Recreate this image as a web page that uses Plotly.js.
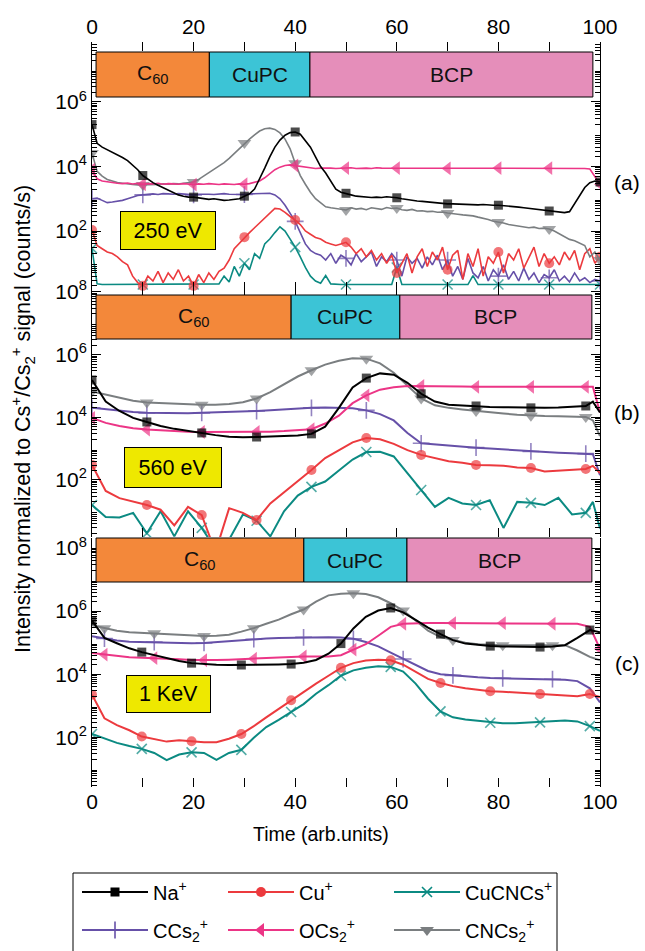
<!DOCTYPE html>
<html><head><meta charset="utf-8">
<script src="https://cdn.plot.ly/plotly-3.0.1.min.js"></script>
<style>html,body{margin:0;padding:0;background:#fff}#chart{width:645px;height:951px}</style>
</head><body><div id="chart"></div>
<script>
// ================= DATA (log10 of intensity in counts/s) =================
const timeA = [0,1,2,3,4,5,6,7,8,9,10,11,12,13,14,15,16,17,18,19,20,21,22,23,24,25,26,27,28,29,30,31,32,33,34,35,36,37,38,39,40,41,42,43,44,45,46,47,48,49,50,51,52,53,54,55,56,57,58,59,60,61,62,63,64,65,66,67,68,69,70,71,72,73,74,75,76,77,78,79,80,81,82,83,84,85,86,87,88,89,90,91,92,93,94,95,96,97,98,99,100];
const timeB = [0,2.7,5.4,8.1,10.8,13.5,16.2,18.9,21.6,24.3,27,29.7,32.4,35.1,37.8,40.5,43.2,45.9,48.6,51.3,54,56.7,59.4,62.1,64.8,67.5,70.2,72.9,75.6,78.3,81,83.7,86.4,89.1,91.8,94.5,97.2,98.6,100];
const timeC = [0,2.45,4.9,7.35,9.8,12.25,14.7,17.15,19.6,22.05,24.5,26.95,29.4,31.85,34.3,36.75,39.2,41.65,44.1,46.55,49,51.45,53.9,56.35,58.8,61.25,63.7,66.15,68.6,71.05,73.5,75.95,78.4,80.85,83.3,85.75,88.2,90.65,93.1,95.55,98,100];

// ---- panel (a) 250 eV ----
const naA = [5.3,4.72,4.6,4.52,4.45,4.38,4.28,4.18,4.05,3.9,
 3.72,3.6,3.5,3.42,3.35,3.28,3.2,3.12,3.08,3.05,
 3.05,3.03,3.02,2.98,3.0,2.97,2.95,2.96,2.97,3.0,
 3.08,3.15,3.3,3.6,3.95,4.3,4.6,4.82,4.97,5.05,
 5.07,5.0,4.8,4.6,4.3,4.0,3.8,3.55,3.3,3.2,
 3.17,3.12,3.08,3.06,3.05,3.04,3.05,3.04,3.06,3.05,
 3.03,3.0,2.97,2.95,2.93,2.92,2.9,2.88,2.87,2.86,
 2.84,2.84,2.83,2.83,2.82,2.82,2.81,2.82,2.8,2.8,
 2.8,2.79,2.77,2.76,2.74,2.72,2.7,2.68,2.65,2.63,
 2.62,2.6,2.58,2.57,2.6,2.85,3.1,3.35,3.5,3.55,3.52];
const cuA = [2.03,1.55,1.45,1.35,1.3,1.2,1.05,0.95,0.6,0.4,
 0.3,0.6,0.45,0.75,0.4,0.7,0.5,0.8,0.45,0.6,
 0.3,0.65,0.4,0.7,0.5,0.75,0.85,1.1,1.45,1.62,
 1.81,1.95,2.1,2.25,2.4,2.55,2.7,2.68,2.58,2.45,
 2.34,2.2,2.0,1.9,1.8,1.75,1.65,1.6,1.55,1.6,
 1.65,1.5,1.3,1.45,1.2,1.4,1.1,1.3,1.0,1.25,
 0.7,1.0,1.3,0.7,1.2,1.45,0.9,1.35,1.1,1.5,
 0.8,1.25,1.4,0.5,1.3,0.9,1.45,0.6,1.2,1.0,
 1.35,0.7,1.3,1.1,1.45,0.85,1.2,1.5,0.9,1.3,
 1.0,1.2,0.95,1.35,1.1,1.4,0.8,1.3,1.45,1.0,1.2];
const cucncsA = [1.46,0.36,0.34,0.34,0.34,0.34,0.34,0.34,0.34,0.34,
 0.34,0.34,0.34,0.34,0.34,0.34,0.34,0.34,0.34,0.34,
 0.34,0.34,0.34,0.34,0.34,0.36,0.6,0.42,0.9,0.6,
 1.0,0.8,1.3,1.15,1.6,1.75,1.95,2.13,2.0,1.75,
 1.5,1.2,0.87,0.6,0.45,0.38,0.62,0.36,0.34,0.34,
 0.34,0.34,0.34,0.34,0.34,0.34,0.34,0.34,0.34,0.34,
 0.87,0.34,0.34,0.34,0.34,0.34,0.34,0.34,0.34,0.34,
 0.34,0.34,0.34,0.34,0.34,0.62,0.34,0.34,0.34,0.34,
 0.34,0.34,0.34,0.34,0.34,0.34,0.34,0.34,0.34,0.34,
 0.34,0.34,0.34,0.34,0.34,0.34,0.34,0.34,0.34,0.34,0.34];
const ccs2A = [3.0,3.02,2.95,2.88,2.9,2.92,2.95,3.0,3.05,3.1,
 3.12,3.14,3.15,3.13,3.16,3.15,3.14,3.16,3.15,3.13,
 3.12,3.14,3.15,3.14,3.13,3.15,3.16,3.14,3.13,3.12,
 3.13,3.15,3.16,3.15,3.16,3.17,3.12,3.0,2.8,2.55,
 2.3,1.95,1.6,1.4,1.3,1.25,1.1,1.3,1.0,1.25,
 1.15,0.95,1.3,1.05,1.2,1.35,0.9,1.2,1.05,1.3,
 1.1,0.6,1.2,1.0,1.15,0.85,1.2,0.95,1.25,0.8,
 1.1,0.6,0.9,0.5,1.15,0.7,0.55,0.9,0.45,0.8,
 0.6,0.95,0.5,0.75,0.45,0.85,0.5,0.7,0.4,0.65,
 0.55,0.8,0.45,0.6,0.42,0.7,0.45,0.55,0.4,0.5,0.45];
const ocs2A = [3.9,3.62,3.55,3.52,3.5,3.48,3.47,3.49,3.46,3.48,
 3.45,3.47,3.46,3.48,3.45,3.47,3.46,3.45,3.47,3.46,
 3.44,3.46,3.45,3.47,3.45,3.44,3.46,3.45,3.44,3.46,
 3.45,3.47,3.5,3.55,3.65,3.78,3.9,3.98,4.03,4.05,
 4.03,4.0,3.97,3.95,3.94,3.95,3.96,3.95,3.94,3.95,
 3.95,3.96,3.94,3.95,3.95,3.94,3.96,3.95,3.95,3.94,
 3.95,3.96,3.95,3.94,3.95,3.95,3.96,3.94,3.95,3.95,
 3.94,3.96,3.95,3.95,3.94,3.95,3.96,3.95,3.94,3.95,
 3.95,3.96,3.94,3.95,3.95,3.94,3.96,3.95,3.95,3.94,
 3.95,3.96,3.95,3.94,3.95,3.95,3.96,3.94,3.92,3.7,3.45];
const cncs2A = [4.42,3.85,3.7,3.6,3.55,3.5,3.48,3.45,3.44,3.43,
 3.43,3.44,3.45,3.44,3.46,3.45,3.47,3.46,3.48,3.5,
 3.52,3.6,3.7,3.82,3.92,4.02,4.12,4.25,4.4,4.55,
 4.73,4.85,4.98,5.1,5.17,5.19,5.15,5.04,4.85,4.55,
 4.1,3.72,3.45,3.2,3.0,2.87,2.75,2.72,2.7,2.68,
 2.65,2.72,2.68,2.7,2.66,2.72,2.69,2.67,2.73,2.7,
 2.71,2.66,2.64,2.67,2.62,2.63,2.6,2.61,2.58,2.59,
 2.56,2.55,2.52,2.5,2.49,2.47,2.43,2.4,2.36,2.3,
 2.28,2.25,2.2,2.18,2.14,2.13,2.1,2.12,2.08,2.09,
 2.06,2.0,1.92,1.82,1.74,1.7,1.62,1.55,1.2,1.35,1.1];

// ---- panel (b) 560 eV ----
const naB = [5.19,4.5,4.2,3.98,3.85,3.72,3.63,3.56,3.5,3.43,
 3.38,3.36,3.37,3.38,3.4,3.42,3.47,3.7,4.3,4.95,
 5.25,5.4,5.36,5.1,4.75,4.5,4.4,4.37,4.36,4.33,
 4.32,4.31,4.3,4.3,4.31,4.33,4.36,4.5,4.15];
const cuB = [2.48,1.65,1.42,1.32,1.2,1.05,0.55,1.14,0.88,-0.3,
 1.1,0.95,0.72,1.25,1.6,1.95,2.32,2.7,2.95,3.2,
 3.34,3.3,3.15,2.95,2.8,2.7,2.6,2.55,2.48,2.47,
 2.45,2.4,2.38,2.27,2.3,2.32,2.35,2.45,2.22];
const cucncsB = [1.2,0.82,0.8,0.95,0.3,1.0,0.2,1.0,0.47,-0.2,
 0.1,0.9,0.7,0.2,1.0,1.5,1.78,1.95,2.3,2.65,
 2.89,2.9,2.75,2.22,1.68,1.14,1.43,1.25,1.2,1.35,
 0.47,1.3,1.27,1.2,1.43,0.9,0.95,1.3,0.45];
const ccs2B = [4.3,4.25,4.2,4.17,4.14,4.13,4.13,4.13,4.14,4.15,
 4.16,4.18,4.2,4.22,4.25,4.28,4.3,4.31,4.31,4.29,
 4.22,4.1,3.9,3.5,3.17,3.13,3.1,3.06,3.03,3.0,
 2.97,2.94,2.91,2.89,2.87,2.85,2.84,2.82,2.15];
const ocs2B = [3.98,3.82,3.72,3.65,3.61,3.58,3.56,3.54,3.53,3.53,
 3.53,3.53,3.53,3.54,3.56,3.58,3.62,3.8,4.05,4.45,
 4.7,4.88,4.96,5.0,5.0,4.99,4.98,4.98,4.97,4.97,
 4.97,4.97,4.97,4.97,4.97,4.97,4.97,4.97,4.15];
const cncs2B = [4.82,4.72,4.62,4.53,4.47,4.45,4.43,4.41,4.4,4.4,
 4.42,4.48,4.6,4.8,5.05,5.3,5.5,5.68,5.8,5.88,
 5.87,5.72,5.42,5.0,4.6,4.38,4.3,4.25,4.2,4.16,
 4.12,4.08,4.05,4.04,4.03,4.02,4.01,3.9,3.4];

// ---- panel (c) 1 KeV ----
const naC = [5.7,5.15,4.98,4.82,4.7,4.6,4.51,4.42,4.35,4.32,
 4.3,4.29,4.29,4.29,4.3,4.31,4.32,4.36,4.45,4.65,
 4.97,5.45,5.82,6.02,6.1,5.96,5.72,5.48,5.27,5.08,
 4.97,4.92,4.89,4.88,4.87,4.86,4.86,4.88,4.92,5.15,
 5.4,5.33];
const cuC = [3.35,2.6,2.38,2.22,2.02,1.93,1.86,1.9,1.87,1.84,
 1.84,1.95,2.1,2.35,2.63,2.9,3.17,3.42,3.7,3.95,
 4.2,4.35,4.43,4.46,4.44,4.3,4.08,3.85,3.72,3.62,
 3.55,3.5,3.46,3.44,3.42,3.39,3.37,3.35,3.32,3.3,
 3.37,3.27];
const cucncsC = [2.1,1.95,1.82,1.72,1.63,1.5,1.27,1.45,1.52,1.5,
 1.28,1.5,1.6,1.98,2.32,2.55,2.8,3.05,3.38,3.65,
 3.95,4.12,4.2,4.25,4.23,4.08,3.7,3.22,2.82,2.63,
 2.56,2.52,2.46,2.44,2.44,2.46,2.47,2.5,2.53,2.5,
 2.35,2.2];
const ccs2C = [5.2,5.13,5.07,5.03,5.02,5.02,5.0,4.98,4.98,4.99,
 5.02,5.06,5.09,5.11,5.13,5.15,5.16,5.17,5.17,5.17,
 5.16,5.12,5.02,4.88,4.68,4.48,4.28,4.1,4.0,3.96,
 3.92,3.9,3.88,3.87,3.86,3.85,3.84,3.84,3.82,3.78,
 3.55,3.1];
const ocs2C = [4.67,4.62,4.57,4.54,4.52,4.51,4.49,4.47,4.45,4.44,
 4.45,4.46,4.48,4.49,4.51,4.52,4.54,4.56,4.56,4.56,
 4.6,4.78,4.95,5.22,5.5,5.6,5.62,5.62,5.62,5.62,
 5.62,5.62,5.62,5.62,5.62,5.61,5.61,5.6,5.6,5.6,
 5.5,4.8];
const cncs2C = [5.55,5.46,5.38,5.33,5.31,5.3,5.27,5.24,5.22,5.21,
 5.22,5.25,5.35,5.46,5.6,5.73,5.9,6.05,6.3,6.5,
 6.55,6.57,6.54,6.44,6.25,6.02,5.7,5.38,5.18,5.08,
 5.0,4.95,4.93,4.92,4.92,4.92,4.92,4.92,4.92,4.75,
 4.55,4.44];

// ---- labels ----
const seriesNames = ['Na<sup>+</sup>','Cu<sup>+</sup>','CuCNCs<sup>+</sup>','CCs<sub>2</sub><sup>+</sup>','OCs<sub>2</sub><sup>+</sup>','CNCs<sub>2</sub><sup>+</sup>'];
const layerNames = ['C<sub>60</sub>','CuPC','BCP'];
const layerEdgesA = [0.8, 23.1, 42.9, 98.6];
const layerEdgesB = [0.8, 39.2, 60.6, 98.4];
const layerEdgesC = [0.8, 41.7, 62.0, 98.4];
const energyLabels = ['250 eV','560 eV','1 KeV'];
const panelLabels = ['(a)','(b)','(c)'];
const xTickVals = [0,20,40,60,80,100];
const xMinorVals = [10,30,50,70,90];
const yTickVals = [100,1e4,1e6,1e8];
const yTickText = ['10<sup>2</sup>','10<sup>4</sup>','10<sup>6</sup>','10<sup>8</sup>'];
const yOddDecades = [10,1e3,1e5,1e7];
const xTitle = 'Time (arb.units)';
const yTitle = 'Intensity normalized to Cs<sup>+</sup>/Cs<sub>2</sub><sup>+</sup> signal (counts/s)';

// ================= STYLE / LAYOUT =================
const FONT = 'Liberation Sans, Arial, Helvetica, sans-serif';
const H = 951, L = 92, PW = 508;
const px = p => (p - L) / PW;
const py = p => 1 - p / H;
const toCounts = a => a.map(v => Math.pow(10, v));

const styles = [
  {color:'#000000', symbol:'square', size:9},
  {color:'#EC3A3E', symbol:'circle', size:10},
  {color:'#0B8A82', symbol:'x-thin', size:10, thin:true},
  {color:'#6650A8', symbol:'cross-thin', size:12, thin:true},
  {color:'#EC3586', symbol:'triangle-left', size:12},
  {color:'#7A7E80', symbol:'triangle-down', size:12}
];
const drawOrder = [2,3,1,5,4,0];

const step = (a,b,s) => { const r=[]; for(let i=a;i<=b;i+=s) r.push(i); return r; };
const panels = [
  {time:timeA, data:[naA,cuA,cucncsA,ccs2A,ocs2A,cncs2A], marks:[step(0,100,10),step(0,100,10),step(0,100,10),step(0,100,10),step(0,100,10),step(0,100,10)],
   top:42, bottom:291, range:[0.14,7.86], barTop:52, barBot:97, edges:layerEdgesA,
   box:{cx:168, cy:230.5, w:94, h:37}, lab:{x:627, y:182}, lw:1.6},
  {time:timeB, data:[naB,cuB,cucncsB,ccs2B,ocs2B,cncs2B], marks:[step(0,36,4),step(0,36,4),step(0,36,4),step(0,36,4),step(0,36,4),step(0,36,4)],
   top:290, bottom:537, range:[0.18,8.06], barTop:295, barBot:339, edges:layerEdgesB,
   box:{cx:173, cy:467.5, w:96, h:39}, lab:{x:627, y:413}, lw:2},
  {time:timeC, data:[naC,cuC,cucncsC,ccs2C,ocs2C,cncs2C], marks:[step(0,40,4),step(0,40,4),step(0,40,4),step(1,37,4),step(1,41,4),step(1,37,4)],
   top:538, bottom:787, range:[0.42,8.32], barTop:538, barBot:582, edges:layerEdgesC,
   box:{cx:168.5, cy:694, w:83, h:36}, lab:{x:627, y:663}, lw:2}
];
const layerColors = ['#F3883A','#3CC4D6','#E58EBA'];

const minorVals = [];
for (let n = 0; n <= 8; n++) for (let k = 2; k <= 9; k++) minorVals.push(k * Math.pow(10, n));

const traces = [];
const layout = {
  width:645, height:951, margin:{l:L, r:45, t:0, b:0},
  paper_bgcolor:'#fff', plot_bgcolor:'rgba(0,0,0,0)',
  font:{family:FONT, size:21, color:'#000'},
  showlegend:true, hovermode:false,
  shapes:[], annotations:[]
};

panels.forEach((p, pi) => {
  const xa = pi === 0 ? 'x' : 'x' + (pi + 1);
  const ya = pi === 0 ? 'y' : 'y' + (pi + 1);
  const xKey = pi === 0 ? 'xaxis' : 'xaxis' + (pi + 1);
  const yKey = pi === 0 ? 'yaxis' : 'yaxis' + (pi + 1);
  const yOddKey = 'yaxis' + (pi + 4);
  drawOrder.forEach(si => {
    const st = styles[si];
    const sizes = p.time.map((t, i) => p.marks[si].includes(i) ? st.size : 0);
    traces.push({
      x: p.time, y: toCounts(p.data[si]), xaxis: xa, yaxis: ya,
      type:'scatter', mode:'lines+markers', showlegend:false, hoverinfo:'skip',
      line:{color:st.color, width:p.lw},
      marker:{symbol:st.symbol, size:sizes, color:st.color,
              line:{color:st.color, width: st.thin ? 1.6 : 0}}
    });
  });
  layout[xKey] = {
    domain:[0,1], anchor:ya, range:[0,100], side: pi === 0 ? 'top' : 'bottom',
    tickmode:'array', tickvals:xTickVals, showticklabels: pi !== 1,
    ticklabelstandoff: pi === 0 ? 3 : 0,
    ticks:'inside', ticklen:9, tickwidth:1, tickcolor:'#000', mirror:'ticks',
    showline:false, showgrid:false, zeroline:false,
    tickfont:{size:21, family:FONT, color:'#000'},
    minor:{tickmode:'array', tickvals:xMinorVals, ticks:'inside', ticklen:9, tickwidth:1, tickcolor:'#000', showgrid:false}
  };
  layout[yKey] = {
    domain:[py(p.bottom), py(p.top)], anchor:xa, type:'log', range:p.range,
    tickmode:'array', tickvals:yTickVals, ticktext:yTickText,
    ticks:'inside', ticklen:9, tickwidth:1, tickcolor:'#000', mirror:'ticks',
    showline:true, linecolor:'#000', linewidth:1, showgrid:false, zeroline:false,
    tickfont:{size:21, family:FONT, color:'#000'},
    minor:{tickmode:'array', tickvals:minorVals, ticks:'inside', ticklen:5, tickwidth:1, tickcolor:'#000', showgrid:false}
  };
  // second axis carrying the long unlabelled ticks of the odd decades
  layout[yOddKey] = {
    overlaying:ya, anchor:xa, type:'log', range:p.range,
    tickmode:'array', tickvals:yOddDecades, showticklabels:false,
    ticks:'inside', ticklen:9, tickwidth:1, tickcolor:'#000', mirror:'ticks',
    showline:false, showgrid:false, zeroline:false
  };
  // layer bars
  for (let k = 0; k < 3; k++) {
    layout.shapes.push({type:'rect', xref:xa, yref:'paper', layer:'above',
      x0:p.edges[k], x1:p.edges[k+1], y0:py(p.barBot), y1:py(p.barTop),
      fillcolor:layerColors[k], line:{color:'#000', width:1}});
    layout.annotations.push({xref:xa, yref:'paper', x:(p.edges[k]+p.edges[k+1])/2, y:py((p.barTop+p.barBot)/2),
      text:layerNames[k], showarrow:false, font:{size:21, family:FONT, color:'#111'}, xanchor:'center', yanchor:'middle'});
  }
  // energy box
  layout.annotations.push({xref:'paper', yref:'paper', x:px(p.box.cx), y:py(p.box.cy), xanchor:'center', yanchor:'middle',
    text:energyLabels[pi], showarrow:false, bgcolor:'#EEE800', bordercolor:'#000', borderwidth:1, borderpad:0,
    width:p.box.w, height:p.box.h, font:{size:21.5, family:FONT, color:'#000'}});
  // panel label
  layout.annotations.push({xref:'paper', yref:'paper', x:px(p.lab.x), y:py(p.lab.y), xanchor:'center', yanchor:'middle',
    text:panelLabels[pi], showarrow:false, font:{size:21, family:FONT, color:'#000'}});
});

// axis titles
layout.annotations.push({xref:'paper', yref:'paper', x:px(23), y:py(419), textangle:-90, xanchor:'center', yanchor:'middle',
  text:yTitle, showarrow:false, font:{size:21.5, family:FONT, color:'#000'}});
layout.annotations.push({xref:'paper', yref:'paper', x:px(321), y:py(834), xanchor:'center', yanchor:'middle',
  text:xTitle, showarrow:false, font:{size:19.5, family:FONT, color:'#000'}});

// legend box
layout.shapes.push({type:'rect', xref:'paper', yref:'paper', x0:px(73), x1:px(557), y0:py(873), y1:py(980),
  line:{color:'#000', width:1}, fillcolor:'rgba(0,0,0,0)'});

// legend entries (one legend per entry to place them in a 3x2 grid)
const legCols = [77, 223, 389];
const legRows = [892, 930];
for (let si = 0; si < 6; si++) {
  const st = styles[si];
  const key = si === 0 ? 'legend' : 'legend' + (si + 1);
  traces.push({x:[null], y:[null], xaxis:'x3', yaxis:'y3', type:'scatter', mode:'lines+markers',
    name:seriesNames[si], legend:key, showlegend:true, hoverinfo:'skip',
    line:{color:st.color, width:2},
    marker:{symbol:st.symbol, size:st.size, color:st.color, line:{color:st.color, width: st.thin ? 1.6 : 0}}});
  layout[key] = {x:px(legCols[si % 3]), xanchor:'left', y:py(legRows[Math.floor(si / 3)]), yanchor:'middle',
    bgcolor:'rgba(0,0,0,0)', borderwidth:0, itemwidth:66, font:{size:20, family:FONT, color:'#000'}};
}

Plotly.newPlot('chart', traces, layout, {staticPlot:true, displayModeBar:false});
</script>
</body></html>
